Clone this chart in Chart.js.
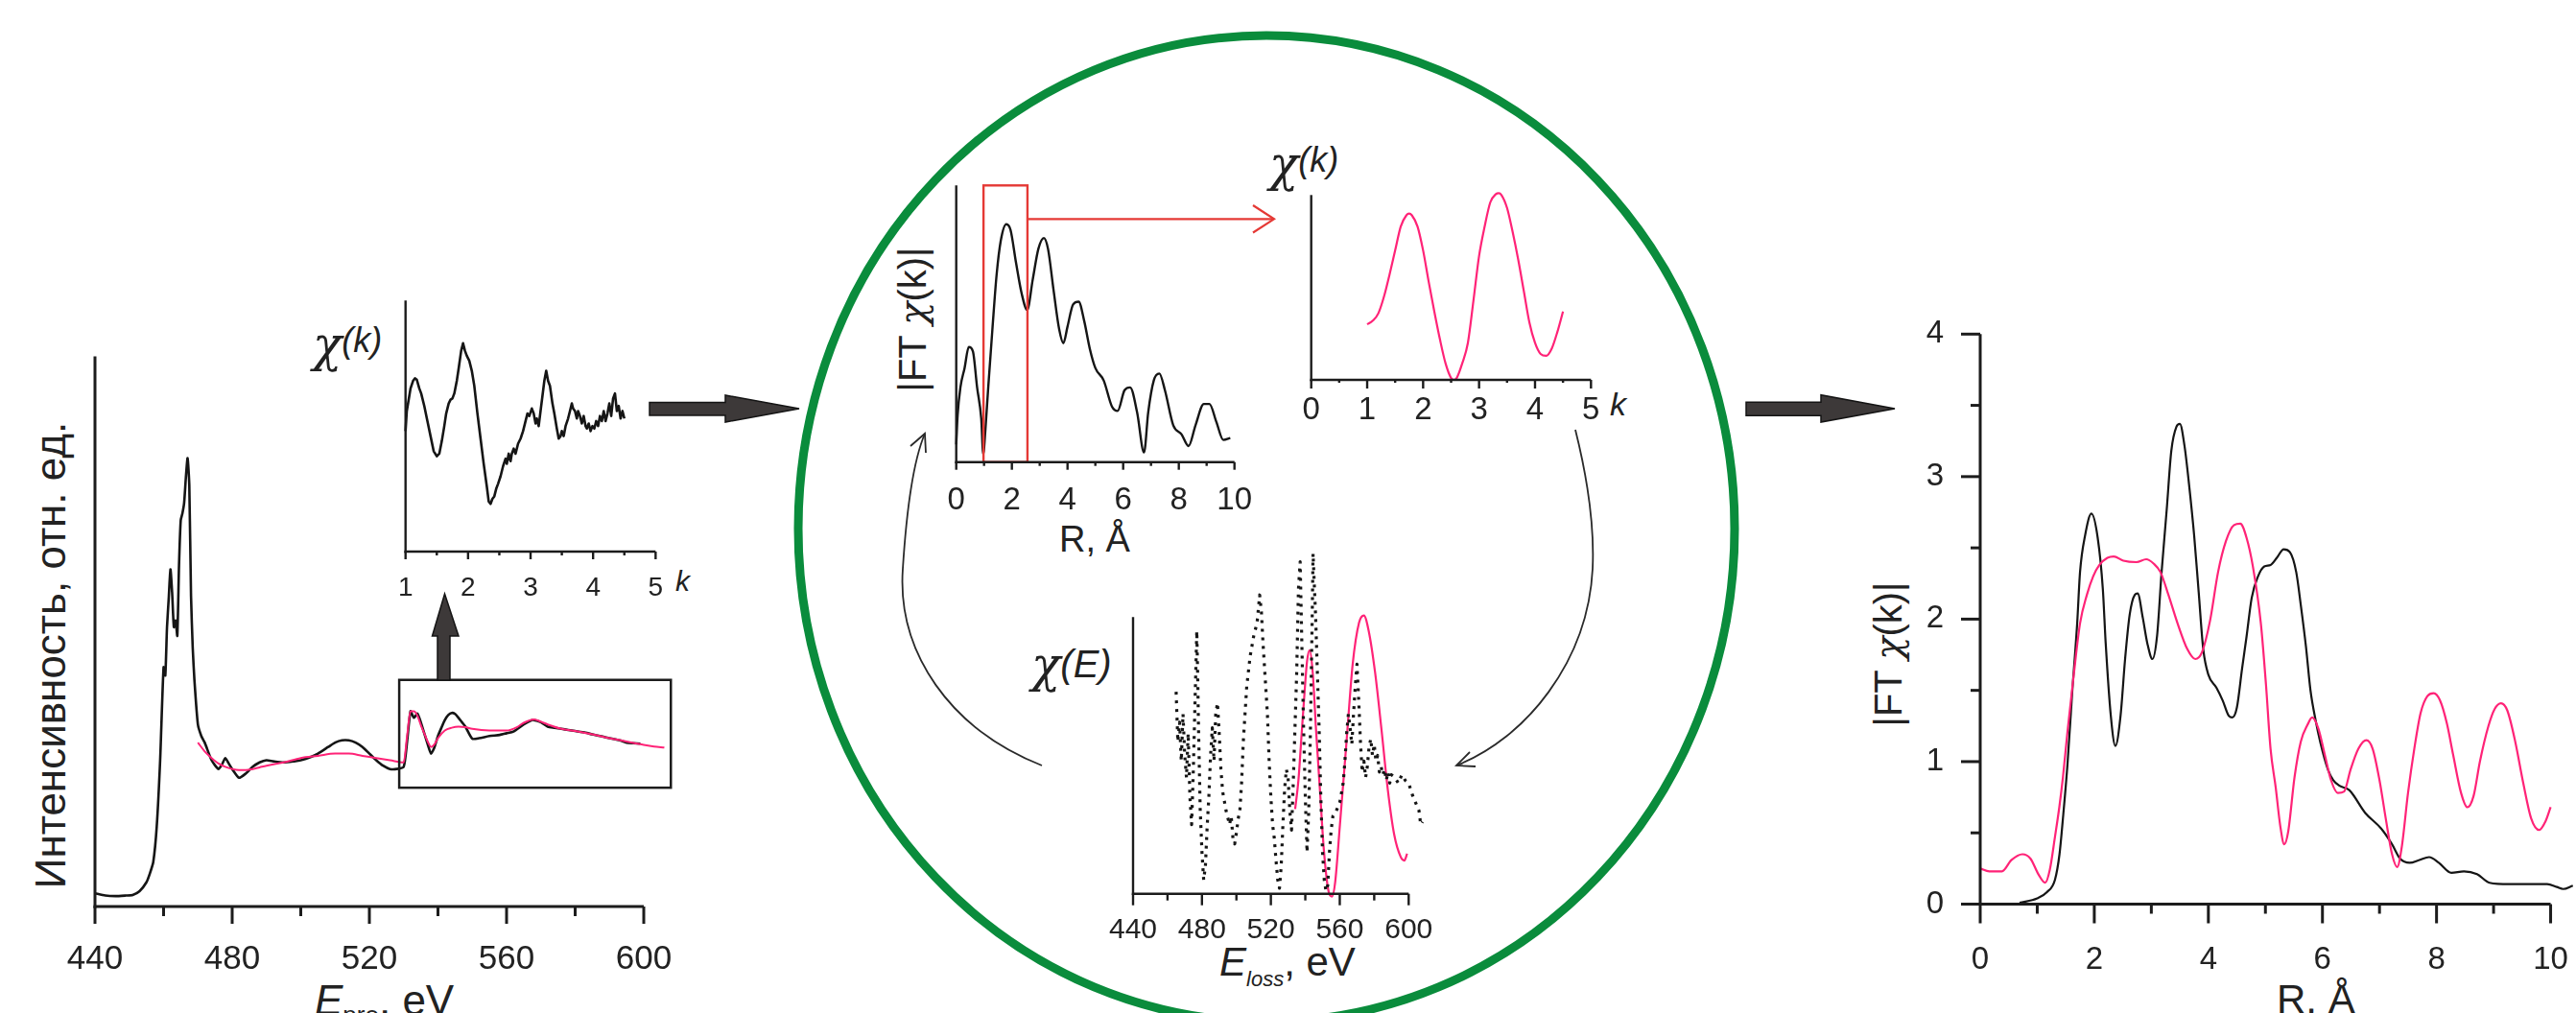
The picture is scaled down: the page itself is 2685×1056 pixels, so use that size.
<!DOCTYPE html>
<html lang="ru">
<head>
<meta charset="UTF-8">
<title>EELFS: χ(k) и |FT χ(k)|</title>
<script src="https://cdn.jsdelivr.net/npm/chart.js"></script>
<style>
  body {
    margin: 0;
    width: 2685px;
    height: 1056px;
    overflow: hidden;
    position: relative;
    background: #fff;
    font-family: 'Liberation Sans', Arial, sans-serif;
    color: #222;
  }
  canvas { position: absolute; }
  .lbl { position: absolute; white-space: nowrap; line-height: 1; }
  .rot { transform: translate(-50%, -50%) rotate(-90deg); }
  .chi { font-family: 'DejaVu Serif', 'Liberation Serif', serif; font-style: italic; }
  .it { font-style: italic; }
  #deco { position: absolute; left: 0; top: 0; pointer-events: none; }
</style>
</head>
<body>

<!-- подписи осей -->
<div class="lbl rot" style="left:53px;top:683px;font-size:44px">Интенсивность, отн. ед.</div>
<div class="lbl" style="left:328px;top:1021px;font-size:44px"><span class="it">E</span><span style="font-size:26px;vertical-align:-0.35em">pre</span>, eV</div>

<div class="lbl" style="left:326px;top:334px"><span class="chi" style="font-size:50px">χ</span><span class="it" style="font-size:36px;vertical-align:0.25em">(k)</span></div>
<div class="lbl it" style="left:704px;top:591px;font-size:30px">k</div>

<div class="lbl rot" style="left:951px;top:333px;font-size:40px">|FT <span class="chi">χ</span>(k)|</div>
<div class="lbl" style="left:1141px;top:543px;font-size:38px;transform:translateX(-50%)">R, Å</div>

<div class="lbl" style="left:1323px;top:146px"><span class="chi" style="font-size:50px">χ</span><span class="it" style="font-size:36px;vertical-align:0.25em">(k)</span></div>
<div class="lbl it" style="left:1678px;top:404px;font-size:34px">k</div>

<div class="lbl" style="left:1075px;top:668px"><span class="chi" style="font-size:50px">χ</span><span class="it" style="font-size:40px;vertical-align:0.1em">(E)</span></div>
<div class="lbl" style="left:1271px;top:982px;font-size:42px"><span class="it">E</span><span class="it" style="font-size:22px;vertical-align:-0.5em">loss</span>, eV</div>

<div class="lbl rot" style="left:1968px;top:682px;font-size:40px">|FT <span class="chi">χ</span>(k)|</div>
<div class="lbl" style="left:2373px;top:1021px;font-size:42px">R, Å</div>

<svg id="deco" width="2685" height="1056" viewBox="0 0 2685 1056">
  <ellipse cx="1320" cy="551" rx="488" ry="514" fill="none" stroke="#0a8c3c" stroke-width="9"/>
  <g fill="#3d3939" stroke="#141414" stroke-width="1.5">
    <polygon points="677,419.5 756,419.5 756,412 833,426 756,440 756,433 677,433"/>
    <polygon points="1820,419.3 1898,419.3 1898,411.7 1975,426 1898,440 1898,433.3 1820,433.3"/>
    <polygon points="456,709 456,663 450.5,663 463.5,619 478,663 469,663 469,709"/>
  </g>
  <g fill="none" stroke="#e53935" stroke-width="2.2">
    <path d="M1071,228.3 H1327"/>
    <path d="M1306,214 L1328,228.3 L1306,242.5"/>
  </g>
  <g fill="none" stroke="#2a2a2a" stroke-width="1.8">
    <path d="M1086,798 C990,760 935,680 941,593 C945,530 952,480 964,452"/>
    <path d="M949,465 L964,452 L965,472"/>
    <path d="M1642,448 C1655,500 1662,550 1660,593 C1655,690 1590,770 1518,798"/>
    <path d="M1538,799 L1518,798 L1532,784"/>
  </g>
</svg>

<script>
  const FONT = "'Liberation Sans', Arial, sans-serif";
  const BLACK = '#151515';
  const PINK = '#ff2377';

  // --- спектр EELS (эксперимент и подгонка), eV / отн. ед.
  const mainE = [
    440, 443, 446, 449, 451, 453, 455, 456, 457, 458,
    459, 460, 460.5, 461, 461.5, 462, 462.5, 463, 463.5, 464,
    464.5, 465, 465.5, 466, 466.5, 467, 467.5, 468, 468.5, 469,
    470, 471, 472, 474, 476, 477, 478, 479, 480, 482,
    484, 486, 488, 490, 492, 495, 498, 500, 503, 505,
    508, 510, 512, 514, 516, 518, 520, 522, 524, 526,
    528, 530, 531, 532, 533, 534, 535, 536, 537, 538,
    539, 540, 541, 542, 543, 544, 545, 546, 547, 548,
    550, 552, 555, 558, 560, 562, 565, 567, 568, 570,
    572, 574, 576, 578, 580, 583, 585, 588, 590, 593,
    595, 597, 599
  ];
  const mainExp = [
    2.4, 2.0, 1.9, 2.0, 2.1, 2.8, 4.4, 6.0, 8.1, 14.5,
    26.6, 43.5, 42, 50.8, 56, 61.3, 57, 50.8, 52, 49.2,
    62, 70.2, 71.5, 73.4, 78, 81.5, 76.6, 56.5, 47, 41.1,
    33.1, 31, 29.8, 26.6, 25, 25.8, 27, 26, 25, 23.4,
    24.2, 25.4, 26.2, 26.6, 26.4, 26.2, 26.4, 26.6, 27.2, 27.8,
    29, 29.8, 30.2, 30.2, 29.8, 29, 27.8, 26.6, 25.6, 25,
    25, 25.4, 30, 35.5, 34.3, 35.1, 33.5, 31.5, 29.5, 27.8,
    29, 31, 32.5, 33.9, 34.8, 35.2, 35, 34.3, 33.5, 32.7,
    30.5, 30.6, 31, 31.2, 31.5, 31.8, 33.1, 33.8, 33.9, 33.5,
    32.7, 32.5, 32.3, 32.1, 31.9, 31.6, 31.3, 30.9, 30.6, 30.2,
    29.8, 29.7, 29.6
  ];
  const mainFitE = [
    470, 472, 474, 476, 478, 480, 482, 484, 486, 488,
    490, 495, 500, 505, 510, 514, 518, 522, 526, 530,
    531, 532, 533, 534, 535, 536, 537, 538, 539, 540,
    542, 544, 546, 548, 550, 555, 560, 563, 565, 568,
    570, 572, 576, 580, 585, 590, 595, 600, 603, 606
  ];
  const mainFit = [
    29.8, 28.2, 27, 26, 25.4, 25, 24.8, 24.8, 25, 25.3,
    25.6, 26.2, 27, 27.4, 27.8, 27.8, 27.4, 27, 26.6, 26.2,
    31, 35.5, 35.5, 34.7, 33, 31.5, 30, 29, 29.5, 30.6,
    32, 32.5, 32.7, 32.6, 32.3, 32, 32, 32.6, 33.4, 34,
    33.6, 33.1, 32.3, 31.9, 31.3, 30.6, 30, 29.4, 29.1, 28.9
  ];
  const mainTicks = [440, 480, 520, 560, 600];
  const mainMinor = [460, 500, 540, 580];

  // --- χ(k) эксперимент (вставка)
  const kExp = [
    1.0, 1.02, 1.05, 1.08, 1.12, 1.15, 1.18, 1.22, 1.25, 1.3,
    1.35, 1.4, 1.45, 1.5, 1.54, 1.58, 1.62, 1.65, 1.69, 1.72,
    1.75, 1.78, 1.82, 1.85, 1.89, 1.92, 1.95, 1.98, 2.02, 2.06,
    2.1, 2.15, 2.2, 2.25, 2.3, 2.33, 2.36, 2.39, 2.42, 2.45,
    2.48, 2.52, 2.56, 2.6, 2.62, 2.65, 2.68, 2.7, 2.73, 2.76,
    2.8, 2.84, 2.88, 2.92, 2.95, 2.98, 3.02, 3.05, 3.08, 3.1,
    3.13, 3.16, 3.19, 3.22, 3.25, 3.28, 3.31, 3.35, 3.38, 3.42,
    3.45, 3.48, 3.5, 3.53, 3.56, 3.6, 3.63, 3.66, 3.68, 3.71,
    3.74, 3.76, 3.79, 3.82, 3.85, 3.88, 3.9, 3.93, 3.96, 3.99,
    4.02, 4.05, 4.08, 4.11, 4.14, 4.17, 4.2, 4.23, 4.26, 4.29,
    4.32, 4.35, 4.38, 4.41, 4.44, 4.47, 4.5
  ];
  const chiExp = [
    4.8, 5.6, 6.05, 6.5, 6.8, 6.9, 6.85, 6.5, 6.3, 5.8,
    5.2, 4.6, 4.0, 3.8, 3.9, 4.4, 5.0, 5.5, 5.9, 6.05,
    6.1, 6.3, 6.8, 7.3, 8.0, 8.3, 8.0, 7.8, 7.6, 7.2,
    6.6, 5.5, 4.5, 3.5, 2.6, 2.0, 1.9, 2.1, 2.2, 2.5,
    2.7, 3.0, 3.4, 3.7, 3.5, 3.9, 3.6, 3.9, 4.1, 3.9,
    4.3, 4.5, 4.8, 5.2, 5.5, 5.4, 5.7, 5.5, 5.1, 5.3,
    5.0, 5.6, 6.2, 6.8, 7.2, 6.8, 6.6, 5.9, 5.5, 4.9,
    4.5, 4.6, 4.8, 4.6, 5.0, 5.3, 5.6, 5.9, 5.7, 5.6,
    5.3, 5.6, 5.4, 5.1, 5.4, 5.0, 4.9, 5.1, 4.8, 5.0,
    4.9, 5.2, 5.0, 5.4, 5.2, 5.6, 5.2, 5.5, 5.9, 5.4,
    6.1, 6.3, 5.6, 5.8, 5.3, 5.6, 5.3
  ];
  const kExpTicks = [1, 2, 3, 4, 5];
  const kExpMinor = [1.5, 2.5, 3.5, 4.5];

  // --- |FT χ(k)| (вставка в круге)
  const rIn = [
    0, 0.05, 0.15, 0.3, 0.45, 0.6, 0.75, 0.9, 0.97, 1.05,
    1.15, 1.3, 1.45, 1.6, 1.8, 1.95, 2.15, 2.35, 2.55, 2.75,
    2.95, 3.15, 3.3, 3.5, 3.7, 3.85, 4.0, 4.2, 4.4, 4.6,
    4.8, 5.0, 5.3, 5.6, 5.8, 6.05, 6.25, 6.5, 6.75, 6.9,
    7.1, 7.3, 7.5, 7.8, 8.1, 8.35, 8.6, 8.9, 9.1, 9.35,
    9.6, 9.85
  ];
  const ftIn = [
    0.64, 1.7, 2.7, 3.4, 4.16, 4.0, 2.7, 1.56, 0.29, 1.2,
    2.7, 4.8, 6.76, 8.0, 8.6, 8.4, 7.2, 6.1, 5.5, 6.6,
    7.7, 8.1, 7.7, 6.2, 4.8, 4.3, 4.9, 5.7, 5.8, 5.1,
    4.1, 3.4, 2.95, 2.0, 1.85, 2.6, 2.7, 1.8, 0.35, 1.8,
    2.95, 3.2, 2.6, 1.33, 1.0, 0.58, 1.33, 2.1, 2.1, 1.45,
    0.8, 0.87
  ];
  const rInTicks = [0, 2, 4, 6, 8, 10];
  const rInMinor = [1, 3, 5, 7, 9];

  // --- χ(k) выделенной оболочки
  const kFit = [
    1.0, 1.1, 1.2, 1.3, 1.4, 1.5, 1.6, 1.7, 1.75, 1.8,
    1.9, 2.0, 2.1, 2.2, 2.3, 2.4, 2.5, 2.55, 2.6, 2.7,
    2.8, 2.9, 3.0, 3.1, 3.2, 3.3, 3.35, 3.4, 3.5, 3.6,
    3.7, 3.8, 3.9, 4.0, 4.1, 4.2, 4.3, 4.4, 4.5
  ];
  const chiFit = [
    3.0, 3.2, 3.6, 4.5, 5.7, 7.0, 8.3, 8.9, 9.0, 8.9,
    8.3, 7.0, 5.3, 3.7, 2.2, 0.9, 0.1, 0.0, 0.1, 0.9,
    2.0, 4.3, 6.7, 8.3, 9.6, 10.05, 10.1, 10.0, 9.3, 8.0,
    6.5, 4.8, 3.1, 2.0, 1.4, 1.3, 1.7, 2.6, 3.7
  ];
  const kFitTicks = [0, 1, 2, 3, 4, 5];
  const kFitMinor = [0.5, 1.5, 2.5, 3.5, 4.5];

  // --- χ(E): эксперимент (точки) и обратное преобразование
  const eExp = [
    465, 466, 467, 468, 469, 470, 471, 472, 473, 474,
    475, 476, 477, 477.5, 478, 479, 480, 481, 482, 483,
    484, 485, 486, 487, 488, 489, 490, 491, 492, 494,
    496, 497, 498, 499, 500, 501, 502, 503, 504, 505,
    506, 508, 510, 512, 513.5, 514.5, 515.5, 516.5, 518, 519,
    520, 521, 522, 523, 524, 525, 526, 527, 528, 529,
    530, 531, 532, 533, 534, 535, 536, 537, 538, 539,
    540, 541, 542, 543, 544, 544.5, 545, 546, 547, 548,
    549, 550, 551, 552, 553, 554, 555, 556, 558, 560,
    562, 563, 564, 565, 566, 567, 568, 569, 570, 571,
    572, 573, 574, 575, 576, 577, 578, 579, 580, 581,
    582, 583, 584, 585, 586, 587, 588, 589, 590, 592,
    594, 596, 598, 600, 602, 604, 606, 607, 608
  ];
  const chiEExp = [
    7.3, 5.5, 6.2, 4.8, 6.5, 5.0, 4.2, 5.8, 3.5, 2.5,
    4.5, 7.0, 9.5, 8.0, 6.0, 3.0, 1.5, 0.5, 1.0, 2.4,
    3.5, 5.0, 6.0, 4.8, 6.5, 6.9, 5.8, 4.5, 3.7, 3.0,
    2.5, 2.8, 2.0, 1.8, 2.2, 2.7, 3.0, 4.0, 5.5, 6.5,
    7.5, 8.6, 9.3, 9.8, 10.8, 10.2, 9.0, 8.0, 6.5, 4.8,
    3.5, 2.5, 2.0, 1.2, 0.5, 0.2, 1.0, 2.5, 3.8, 4.5,
    4.2, 3.0, 2.3, 4.0, 6.0, 8.0, 11.0, 12.0, 9.0, 6.0,
    3.5, 1.5, 3.0, 6.0, 10.0, 12.3, 11.5, 10.0, 8.0, 6.0,
    3.5, 1.5, 0.5, 0.1, 0.3, 1.5, 2.3, 2.8, 3.0, 3.3,
    4.0, 4.8, 5.8, 6.5, 6.0, 5.4, 6.5, 7.5, 8.3, 7.0,
    5.5, 4.4, 4.8, 4.2, 4.6, 5.3, 5.6, 5.0, 5.4, 4.8,
    5.0, 4.4, 4.6, 4.3, 4.5, 4.1, 4.4, 4.0, 4.3, 4.2,
    4.0, 4.3, 4.1, 4.0, 3.6, 3.3, 3.0, 2.5, 2.6
  ];
  const eFit = [
    534.1, 536, 537.8, 539.7, 541, 542.5, 544.3, 546.2, 548.6, 550.8,
    553.6, 555.5, 557.3, 560.1, 563.8, 567.5, 571.2, 574, 576.8, 580.5,
    584.2, 587.9, 591.6, 595.4, 597.5, 599.1
  ];
  const chiEFit = [
    3.06, 4.1, 5.72, 7.4, 8.4, 8.8, 8.0, 5.95, 3.64, 1.56,
    0.06, -0.1, 0.4, 2.5, 5.4, 8.3, 9.8, 10.06, 9.5, 8.0,
    5.95, 3.76, 2.14, 1.33, 1.2, 1.45
  ];

  // --- итоговое |FT χ(k)|: эксперимент и модель
  const rExp = [
    0.69, 1.0, 1.17, 1.31, 1.39, 1.45, 1.53, 1.61, 1.70, 1.75,
    1.84, 1.95, 2.06, 2.15, 2.20, 2.29, 2.37, 2.46, 2.54, 2.62,
    2.71, 2.76, 2.85, 2.93, 3.02, 3.10, 3.18, 3.27, 3.35, 3.44,
    3.50, 3.58, 3.66, 3.75, 3.83, 3.91, 4.0, 4.14, 4.25, 4.36,
    4.42, 4.50, 4.59, 4.67, 4.76, 4.87, 4.98, 5.09, 5.20, 5.32,
    5.43, 5.54, 5.62, 5.71, 5.79, 5.88, 5.96, 6.10, 6.19, 6.30,
    6.47, 6.75, 7.03, 7.22, 7.36, 7.53, 7.70, 7.87, 8.04, 8.26,
    8.48, 8.71, 8.93, 9.27, 9.94, 10.11, 10.22, 10.39
  ];
  const ftExp = [
    0.01, 0.04, 0.084, 0.17, 0.35, 0.6, 0.98, 1.47, 1.97, 2.33,
    2.59, 2.74, 2.57, 2.21, 1.83, 1.32, 1.11, 1.32, 1.72, 2.03,
    2.17, 2.18, 2.01, 1.83, 1.72, 1.88, 2.33, 2.77, 3.18, 3.35,
    3.37, 3.22, 2.95, 2.59, 2.19, 1.79, 1.61, 1.52, 1.43, 1.32,
    1.31, 1.38, 1.65, 1.88, 2.15, 2.30, 2.37, 2.38, 2.43, 2.49,
    2.47, 2.33, 2.10, 1.81, 1.50, 1.29, 1.14, 0.94, 0.87, 0.83,
    0.80, 0.64, 0.53, 0.42, 0.32, 0.29, 0.31, 0.33, 0.29, 0.22,
    0.23, 0.21, 0.15, 0.14, 0.14, 0.12, 0.106, 0.13
  ];
  const rFit = [
    0, 0.16, 0.38, 0.55, 0.74, 0.88, 1.02, 1.14, 1.22, 1.31,
    1.39, 1.45, 1.53, 1.64, 1.75, 1.87, 1.98, 2.09, 2.23, 2.34,
    2.51, 2.74, 2.91, 3.04, 3.16, 3.30, 3.46, 3.63, 3.77, 3.89,
    4.03, 4.17, 4.31, 4.45, 4.56, 4.67, 4.78, 4.92, 5.01, 5.09,
    5.18, 5.26, 5.33, 5.40, 5.51, 5.62, 5.74, 5.82, 5.93, 6.04,
    6.15, 6.27, 6.38, 6.49, 6.63, 6.77, 6.88, 7.00, 7.11, 7.22,
    7.31, 7.39, 7.50, 7.61, 7.72, 7.84, 7.95, 8.06, 8.18, 8.29,
    8.43, 8.54, 8.65, 8.76, 8.91, 9.02, 9.13, 9.24, 9.38, 9.52,
    9.66, 9.80, 9.91, 10.0
  ];
  const ftFit = [
    0.25, 0.23, 0.23, 0.31, 0.35, 0.32, 0.21, 0.15, 0.24, 0.47,
    0.69, 0.89, 1.21, 1.61, 1.97, 2.17, 2.30, 2.38, 2.43, 2.44,
    2.41, 2.40, 2.42, 2.39, 2.33, 2.17, 1.97, 1.79, 1.72, 1.77,
    1.99, 2.33, 2.55, 2.66, 2.67, 2.57, 2.37, 1.97, 1.54, 1.09,
    0.82, 0.55, 0.42, 0.51, 0.89, 1.14, 1.26, 1.31, 1.23, 1.05,
    0.87, 0.78, 0.79, 0.94, 1.09, 1.15, 1.09, 0.87, 0.60, 0.35,
    0.26, 0.40, 0.78, 1.09, 1.34, 1.46, 1.48, 1.43, 1.27, 1.05,
    0.78, 0.68, 0.76, 1.00, 1.25, 1.37, 1.41, 1.36, 1.14, 0.85,
    0.60, 0.52, 0.58, 0.68
  ];
  const rTicks = [0, 2, 4, 6, 8, 10];
  const rMinor = [1, 3, 5, 7, 9];
  const ftTicks = [0, 1, 2, 3, 4];
  const ftMinor = [0.5, 1.5, 2.5, 3.5];

  // оси, засечки и рамки рисуются по шкалам графика
  const axesPlugin = {
    id: 'axes',
    afterDatasetsDraw(chart, args, o) {
      const ctx = chart.ctx, sx = chart.scales.x, sy = chart.scales.y;
      const px = v => sx.getPixelForValue(v), py = v => sy.getPixelForValue(v);
      const seg = (x1, y1, x2, y2) => { ctx.beginPath(); ctx.moveTo(x1, y1); ctx.lineTo(x2, y2); ctx.stroke(); };
      ctx.save();
      ctx.lineCap = 'butt';
      if (o.box) {
        ctx.strokeStyle = o.box.color;
        ctx.lineWidth = o.box.lw;
        ctx.strokeRect(px(o.box.x0), py(o.box.y1), px(o.box.x1) - px(o.box.x0), py(o.box.y0) - py(o.box.y1));
      }
      ctx.strokeStyle = '#1c1c1c';
      ctx.lineWidth = o.lw;
      const ya = py(o.yAt), xa = px(o.xAt);
      seg(xa - o.lw / 2, ya, px(o.xTo), ya);
      seg(xa, ya + o.lw / 2, xa, py(o.yTo));
      o.xMajor.forEach(v => seg(px(v), ya, px(v), ya + o.tMaj));
      o.xMinor.forEach(v => seg(px(v), ya, px(v), ya + o.tMin));
      (o.yMajor || []).forEach(v => seg(xa, py(v), xa - o.tMaj, py(v)));
      (o.yMinor || []).forEach(v => seg(xa, py(v), xa - o.tMin, py(v)));
      ctx.restore();
    }
  };
  Chart.register(axesPlugin);

  function series(xs, ys, color, width, extra) {
    return Object.assign({
      data: xs.map((x, i) => ({ x: x, y: ys[i] })),
      borderColor: color,
      borderWidth: width,
      pointRadius: 0,
      fill: false,
      clip: false,
      borderJoinStyle: 'round',
      cubicInterpolationMode: 'monotone'
    }, extra || {});
  }

  // a: прямоугольник области графика на странице и пределы шкал
  function plot(a, datasets, axes) {
    const ml = 90, mr = 60, mt = 80, mb = 90;
    const left = Math.floor(a.x0 - ml), top = Math.floor(a.y0 - mt);
    const W = Math.ceil(a.x1 + mr) - left, H = Math.ceil(a.y1 + mb) - top;
    const cv = document.createElement('canvas');
    cv.width = W; cv.height = H;
    cv.style.left = left + 'px';
    cv.style.top = top + 'px';
    cv.style.width = W + 'px';
    cv.style.height = H + 'px';
    document.body.insertBefore(cv, document.getElementById('deco'));
    const wY = a.x0 - left, hX = top + H - a.y1;
    const tickFont = { family: FONT, size: a.fs };
    new Chart(cv, {
      type: 'line',
      data: { datasets: datasets },
      options: {
        responsive: false,
        animation: false,
        devicePixelRatio: 1,
        layout: { padding: { left: 0, top: a.y0 - top, right: left + W - a.x1, bottom: 0 } },
        plugins: { legend: { display: false }, tooltip: { enabled: false }, axes: axes },
        scales: {
          x: {
            type: 'linear', min: a.xmin, max: a.xmax,
            grid: { display: false }, border: { display: false },
            afterFit: s => { s.height = hX; },
            afterBuildTicks: s => { s.ticks = a.xl.map(v => ({ value: v })); },
            ticks: { font: tickFont, color: '#222', padding: a.xpad, autoSkip: false, maxRotation: 0, minRotation: 0, callback: v => String(v) }
          },
          y: {
            type: 'linear', min: a.ymin, max: a.ymax,
            grid: { display: false }, border: { display: false },
            afterFit: s => { s.width = wY; },
            afterBuildTicks: s => { s.ticks = (a.yl || []).map(v => ({ value: v })); },
            ticks: { display: !!a.yl, font: tickFont, color: '#222', padding: a.ypad || 0, autoSkip: false, callback: v => String(v) }
          }
        }
      }
    });
  }

  // основной спектр
  plot({ x0: 99, x1: 713.9, y0: 371.6, y1: 945, xmin: 440, xmax: 612, ymin: 0, ymax: 100, xl: mainTicks, fs: 35, xpad: 26 },
    [series(mainFitE, mainFit, PINK, 2), series(mainE, mainExp, BLACK, 2.6, { cubicInterpolationMode: 'default', tension: 0.2 })],
    { lw: 3, xAt: 440, yAt: 0, xTo: 600, yTo: 100, xMajor: mainTicks, xMinor: mainMinor, tMaj: 18, tMin: 10,
      box: { x0: 528.7, x1: 607.9, y0: 21.6, y1: 41.2, color: '#1c1c1c', lw: 2.5 } });

  // χ(k) эксперимент
  plot({ x0: 422.7, x1: 686.6, y0: 313.3, y1: 575, xmin: 1, xmax: 5.05, ymin: 0, ymax: 10, xl: kExpTicks, fs: 28, xpad: 13 },
    [series(kExp, chiExp, BLACK, 2.6, { cubicInterpolationMode: 'default', tension: 0 })],
    { lw: 2.4, xAt: 1, yAt: 0, xTo: 5, yTo: 10, xMajor: kExpTicks, xMinor: kExpMinor, tMaj: 8, tMin: 4 });

  // |FT χ(k)| во вставке
  plot({ x0: 996.7, x1: 1286.7, y0: 193.3, y1: 481.7, xmin: 0, xmax: 10, ymin: 0, ymax: 10, xl: rInTicks, fs: 33, xpad: 12 },
    [series(rIn, ftIn, BLACK, 2.4)],
    { lw: 2.4, xAt: 0, yAt: 0, xTo: 10, yTo: 10, xMajor: rInTicks, xMinor: rInMinor, tMaj: 8, tMin: 4,
      box: { x0: 0.98, x1: 2.56, y0: 0, y1: 10, color: '#e53935', lw: 2.4 } });

  // χ(k) одной оболочки
  plot({ x0: 1366.7, x1: 1658.3, y0: 203.3, y1: 396, xmin: 0, xmax: 5, ymin: 0, ymax: 10, xl: kFitTicks, fs: 33, xpad: 4 },
    [series(kFit, chiFit, PINK, 2.2)],
    { lw: 2.4, xAt: 0, yAt: 0, xTo: 5, yTo: 10, xMajor: kFitTicks, xMinor: kFitMinor, tMaj: 9, tMin: 3 });

  // χ(E)
  plot({ x0: 1181, x1: 1490, y0: 571.2, y1: 931.7, xmin: 440, xmax: 612.1, ymin: 0, ymax: 12.5, xl: mainTicks, fs: 30, xpad: 12 },
    [series(eExp, chiEExp, BLACK, 3.2, { cubicInterpolationMode: 'default', tension: 0, borderDash: [3, 6], borderCapStyle: 'butt' }),
     series(eFit, chiEFit, PINK, 2.2)],
    { lw: 2.4, xAt: 440, yAt: 0, xTo: 600, yTo: 10, xMajor: mainTicks, xMinor: mainMinor, tMaj: 12, tMin: 7 });

  // итоговое |FT χ(k)|
  plot({ x0: 2064, x1: 2685.3, y0: 348.3, y1: 942.5, xmin: 0, xmax: 10.45, ymin: 0, ymax: 4, xl: rTicks, yl: ftTicks, fs: 33, xpad: 31, ypad: 30 },
    [series(rFit, ftFit, PINK, 2.2), series(rExp, ftExp, BLACK, 2.2)],
    { lw: 3, xAt: 0, yAt: 0, xTo: 10, yTo: 4, xMajor: rTicks, xMinor: rMinor, yMajor: ftTicks, yMinor: ftMinor, tMaj: 20, tMin: 10 });
</script>

</body>
</html>
